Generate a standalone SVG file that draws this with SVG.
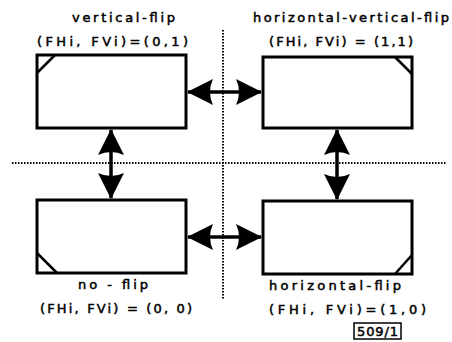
<svg xmlns="http://www.w3.org/2000/svg" width="452" height="342" viewBox="0 0 452 342">
<style>
.box{fill:#fff;stroke:#000;stroke-width:3}
.corner{fill:none;stroke:#000;stroke-width:2.5}
.dot{fill:none;stroke:#000;stroke-width:2;stroke-dasharray:1.5 1.5}
.conn{fill:none;stroke:#000;stroke-width:3.5}
.t{font-family:"DejaVu Sans",sans-serif;font-size:13px;font-weight:normal;fill:#000;stroke:#000;stroke-width:0.5}
</style>
<defs>
<marker id="ah" markerUnits="userSpaceOnUse" viewBox="0 0 26 26" refX="25" refY="13" markerWidth="26" markerHeight="26" orient="auto-start-reverse">
<path d="M0,0 Q6,13 0,26 L26,13 z" fill="#000"/>
</marker>
</defs>
<g id="guides">
<line class="dot" x1="12" y1="163" x2="446" y2="163"/>
<line class="dot" x1="223" y1="30" x2="223" y2="300"/>
</g>
<g id="node-vertical-flip">
<rect class="box" x="37" y="55" width="149" height="73"/>
<line class="corner" x1="55" y1="55" x2="37" y2="73"/>
<text class="t" x="72" y="22" textLength="103" lengthAdjust="spacing">vertical-flip</text>
<text class="t" x="37" y="46" textLength="151" lengthAdjust="spacing">(FHi, FVi)=(0,1)</text>
</g>
<g id="node-horizontal-vertical-flip">
<rect class="box" x="263" y="57" width="149" height="71"/>
<line class="corner" x1="395" y1="57" x2="412" y2="74"/>
<text class="t" x="253" y="22" textLength="196" lengthAdjust="spacing">horizontal-vertical-flip</text>
<text class="t" x="269" y="46" textLength="144" lengthAdjust="spacing">(FHi, FVi) = (1,1)</text>
</g>
<g id="node-no-flip">
<rect class="box" x="37" y="200" width="149" height="73"/>
<line class="corner" x1="37" y1="253" x2="57" y2="273"/>
<text class="t" x="78" y="289" textLength="70" lengthAdjust="spacing">no - flip</text>
<text class="t" x="40" y="313" textLength="152" lengthAdjust="spacing">(FHi, FVi) = (0, 0)</text>
</g>
<g id="node-horizontal-flip">
<rect class="box" x="263" y="201" width="149" height="73"/>
<line class="corner" x1="395" y1="274" x2="412" y2="255"/>
<text class="t" x="269" y="290" textLength="132" lengthAdjust="spacing">horizontal-flip</text>
<text class="t" x="269" y="314" textLength="157" lengthAdjust="spacing">(FHi, FVi)=(1,0)</text>
</g>
<g id="label-509">
<rect x="354" y="323" width="47" height="16" fill="none" stroke="#000" stroke-width="1.5"/>
<text class="t" x="357" y="336" textLength="41" lengthAdjust="spacing">509/1</text>
</g>
<g id="connectors">
<line class="conn" x1="188" y1="92" x2="261" y2="92" marker-start="url(#ah)" marker-end="url(#ah)"/>
<line class="conn" x1="188" y1="237" x2="261" y2="237" marker-start="url(#ah)" marker-end="url(#ah)"/>
<line class="conn" x1="111" y1="130" x2="111" y2="198" marker-start="url(#ah)" marker-end="url(#ah)"/>
<line class="conn" x1="337" y1="130" x2="337" y2="199" marker-start="url(#ah)" marker-end="url(#ah)"/>
</g>
</svg>
